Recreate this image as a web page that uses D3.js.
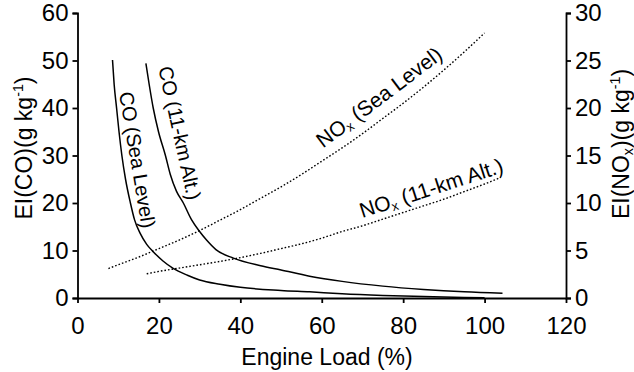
<!DOCTYPE html>
<html>
<head>
<meta charset="utf-8">
<script src="https://cdn.jsdelivr.net/npm/d3@7"></script>
<style>
  html, body { margin: 0; padding: 0; background: #fff; }
  svg { display: block; font-family: "Liberation Sans", Arial, sans-serif; }
</style>
</head>
<body>
<svg id="chart" width="634" height="372"></svg>
<script>
// ---- data ----
const xTicks = [0, 20, 40, 60, 80, 100, 120];
const yLeftTicks = [0, 10, 20, 30, 40, 50, 60];
const yRightTicks = [0, 5, 10, 15, 20, 25, 30];

// CO at sea level, EI(CO) g/kg vs engine load %
const coSeaLoad = [8.6, 9.0, 9.6, 10.2, 10.9, 11.8, 13.0, 14.0, 15.4, 17.0, 18.6, 21.0, 23.5, 27.0, 30.0, 35.0, 40.0, 50.0, 57.0, 65.0, 75.0, 85.0, 95.0, 100.0];
const coSeaEI   = [50.1, 45, 40, 35, 30, 25, 20, 16.5, 13.6, 11.3, 9.75, 7.8, 6.25, 4.8, 3.8, 2.9, 2.25, 1.6, 1.3, 0.9, 0.55, 0.3, 0.1, 0.05];

// CO at 11-km altitude
const coAltLoad = [16.8, 17.6, 18.6, 19.9, 21.6, 22.8, 24.3, 26.0, 28.0, 30.0, 31.7, 34.0, 38.3, 45.0, 50.0, 57.0, 65.0, 75.0, 85.0, 95.0, 104.4];
const coAltEI   = [49.4, 45, 40, 35, 30, 26, 22.5, 20, 16.5, 14, 12.2, 10.2, 8.4, 6.8, 5.9, 4.6, 3.5, 2.5, 1.8, 1.3, 1.0];

// NOx at sea level, EI(NOx) g/kg (right axis)
const noxSeaLoad = [7.6, 10, 15, 20, 25, 30, 35, 40, 45, 50, 55, 60, 65, 70, 75, 80, 85, 90, 95, 100];
const noxSeaEI   = [3.1, 3.5, 4.3, 5.2, 6.1, 7.1, 8.2, 9.3, 10.5, 11.7, 13.0, 14.4, 15.8, 17.3, 18.9, 20.5, 22.2, 24.0, 25.9, 27.9];

// NOx at 11-km altitude
const noxAltLoad = [17, 20, 25, 30, 35, 40, 45, 50, 55, 60, 65, 70, 75, 80, 85, 90, 95, 100, 104];
const noxAltEI   = [2.55, 2.8, 3.15, 3.5, 3.85, 4.25, 4.7, 5.2, 5.7, 6.3, 7.0, 7.6, 8.3, 9.0, 9.7, 10.4, 11.2, 12.0, 12.7];

// ---- layout ----
const svg = d3.select("#chart");
const mLeft = 77.5, mRight = 566, mTop = 13, mBottom = 298;

const x = d3.scaleLinear().domain([0, 120]).range([mLeft, mRight]);
const yL = d3.scaleLinear().domain([0, 60]).range([mBottom, mTop]);
const yR = d3.scaleLinear().domain([0, 30]).range([mBottom, mTop]);

const tickFont = 24;

function styleAxis(g) {
  g.selectAll("path.domain").attr("stroke", "#000").attr("stroke-width", 1.8);
  g.selectAll(".tick line").attr("stroke", "#000").attr("stroke-width", 1.8);
  g.selectAll(".tick text").attr("fill", "#000").attr("font-size", tickFont)
    .attr("font-family", "'Liberation Sans', Arial, sans-serif");
}

svg.append("g").attr("transform", `translate(0,${mBottom})`)
  .call(d3.axisBottom(x).tickValues(xTicks).tickSize(5).tickSizeOuter(0).tickPadding(14))
  .call(styleAxis);

svg.append("g").attr("transform", `translate(${mLeft},0)`)
  .call(d3.axisLeft(yL).tickValues(yLeftTicks).tickSize(5).tickSizeOuter(5).tickPadding(4))
  .call(styleAxis);

svg.append("g").attr("transform", `translate(${mRight},0)`)
  .call(d3.axisRight(yR).tickValues(yRightTicks).tickSize(5).tickSizeOuter(5).tickPadding(4))
  .call(styleAxis);

// ---- lines ----
const coLine = d3.line().x(d => x(d[0])).y(d => yL(d[1])).curve(d3.curveMonotoneX);
const noxLine = d3.line().x(d => x(d[0])).y(d => yR(d[1])).curve(d3.curveMonotoneX);

svg.append("path").datum(d3.zip(coSeaLoad, coSeaEI))
  .attr("d", coLine).attr("fill", "none").attr("stroke", "#000").attr("stroke-width", 1.5);
svg.append("path").datum(d3.zip(coAltLoad, coAltEI))
  .attr("d", coLine).attr("fill", "none").attr("stroke", "#000").attr("stroke-width", 1.5);
svg.append("path").datum(d3.zip(noxSeaLoad, noxSeaEI))
  .attr("d", noxLine).attr("fill", "none").attr("stroke", "#000").attr("stroke-width", 1.4)
  .attr("stroke-dasharray", "1.6 2");
svg.append("path").datum(d3.zip(noxAltLoad, noxAltEI))
  .attr("d", noxLine).attr("fill", "none").attr("stroke", "#000").attr("stroke-width", 1.4)
  .attr("stroke-dasharray", "1.6 2");

// ---- curve labels ----
function curveLabel(cx, cy, angle, size, parts) {
  const t = svg.append("text")
    .attr("transform", `translate(${cx},${cy}) rotate(${angle})`)
    .attr("text-anchor", "middle")
    .attr("font-size", size).attr("fill", "#000");
  parts.forEach(p => {
    const ts = t.append("tspan").text(p.t);
    if (p.sub) ts.attr("font-size", size * 0.62).attr("dy", 3);
    if (p.after) ts.attr("dy", -3);
  });
}
curveLabel(130.5, 161, 80.5, 20, [{t: "CO (Sea Level)"}]);
curveLabel(173, 134.5, 77.5, 20, [{t: "CO (11-km Alt.)"}]);
curveLabel(383.5, 103, -37, 21, [{t: "NO"}, {t: "x", sub: true}, {t: " (Sea Level)", after: true}]);
curveLabel(433.5, 195, -18, 21, [{t: "NO"}, {t: "x", sub: true}, {t: " (11-km Alt.)", after: true}]);

// ---- axis titles ----
const titleFont = 23;
svg.append("text")
  .attr("x", 327).attr("y", 365)
  .attr("text-anchor", "middle").attr("font-size", titleFont).attr("fill", "#000")
  .text("Engine Load (%)");

function yTitle(xp, yp, parts) {
  const t = svg.append("text")
    .attr("transform", `translate(${xp},${yp}) rotate(-90)`)
    .attr("text-anchor", "middle").attr("font-size", titleFont).attr("fill", "#000");
  parts.forEach(p => {
    const ts = t.append("tspan").text(p.t);
    if (p.sup) ts.attr("font-size", titleFont * 0.62).attr("dy", -9);
    if (p.sub) ts.attr("font-size", titleFont * 0.62).attr("dy", 4);
    if (p.back) ts.attr("dy", p.back);
  });
}
yTitle(32, 148, [{t: "EI(CO)(g kg"}, {t: "-1", sup: true}, {t: ")", back: 9}]);
yTitle(628.5, 144, [{t: "EI(NO"}, {t: "x", sub: true}, {t: ")(g kg", back: -4}, {t: "-1", sup: true}, {t: ")", back: 9}]);
</script>
</body>
</html>
